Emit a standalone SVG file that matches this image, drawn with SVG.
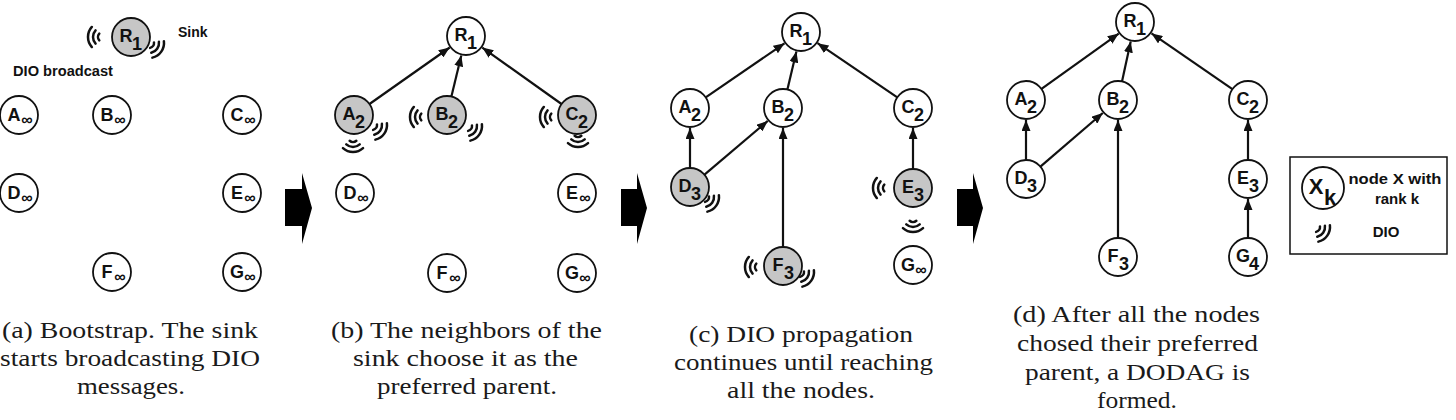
<svg xmlns="http://www.w3.org/2000/svg" xmlns:xlink="http://www.w3.org/1999/xlink" width="1456" height="420" viewBox="0 0 1456 420">
<style>
.nd{fill:#fff;stroke:#111;stroke-width:1.8}
.act{fill:#c6c6c6}
.lb{font-family:"Liberation Sans",Arial,sans-serif;font-weight:bold;font-size:18px;fill:#111;text-anchor:middle}
.inf{font-family:"Liberation Sans",Arial,sans-serif;font-weight:bold;font-size:16px;fill:#111;text-anchor:middle}
.tx{font-family:"Liberation Sans",Arial,sans-serif;font-weight:bold;font-size:14px;fill:#111}
.cap{font-family:"Liberation Serif","Times New Roman",serif;font-size:24px;fill:#1a1a1a}
.ed{stroke:#111;stroke-width:2.2;fill:none;marker-end:url(#ah)}
.wv{fill:none;stroke:#111;stroke-width:2.5;stroke-linecap:round}
.blk{fill:#000}
</style>
<defs>
<marker id="ah" markerUnits="userSpaceOnUse" markerWidth="12" markerHeight="9" refX="11" refY="4.5" orient="auto">
<path d="M0,0 L11,4.5 L0,9 z" fill="#111"/>
</marker>
<path id="wave" class="wv" d="M3.72,-3.35 A5,5 0 0 1 3.72,3.35 M7.43,-6.69 A10,10 0 0 1 7.43,6.69 M11.15,-10.04 A15,15 0 0 1 11.15,10.04"/>
</defs>
<rect width="1456" height="420" fill="#fff"/>

<!-- Panel (a) -->
<g id="a-R1"><circle class="nd act" cx="131" cy="37" r="19"/><text class="lb" x="126" y="42">R</text><text class="lb" x="137" y="50">1</text></g>
<g id="a-A"><circle class="nd" cx="19" cy="115" r="19"/><text class="lb" x="14" y="121">A</text><text class="inf" x="27" y="125">∞</text></g>
<g id="a-B"><circle class="nd" cx="112" cy="115" r="19"/><text class="lb" x="107" y="121">B</text><text class="inf" x="120" y="125">∞</text></g>
<g id="a-C"><circle class="nd" cx="242" cy="115" r="19"/><text class="lb" x="237" y="121">C</text><text class="inf" x="250" y="125">∞</text></g>
<g id="a-D"><circle class="nd" cx="19" cy="193" r="19"/><text class="lb" x="14" y="199">D</text><text class="inf" x="27" y="203">∞</text></g>
<g id="a-E"><circle class="nd" cx="242" cy="193" r="19"/><text class="lb" x="237" y="199">E</text><text class="inf" x="250" y="203">∞</text></g>
<g id="a-F"><circle class="nd" cx="112" cy="272" r="19"/><text class="lb" x="107" y="278">F</text><text class="inf" x="120" y="282">∞</text></g>
<g id="a-G"><circle class="nd" cx="242" cy="272" r="19"/><text class="lb" x="237" y="278">G</text><text class="inf" x="250" y="282">∞</text></g>
<text class="tx" x="178" y="37">Sink</text>
<text class="tx" x="13" y="76" textLength="100" lengthAdjust="spacingAndGlyphs">DIO broadcast</text>

<!-- Panel (b) -->
<g id="b-R1"><circle class="nd" cx="466" cy="36" r="19"/><text class="lb" x="461" y="41">R</text><text class="lb" x="472" y="49">1</text></g>
<g id="b-A2"><circle class="nd act" cx="354" cy="115" r="19"/><text class="lb" x="349" y="120">A</text><text class="lb" x="360" y="128">2</text></g>
<g id="b-B2"><circle class="nd act" cx="447" cy="115" r="19"/><text class="lb" x="442" y="120">B</text><text class="lb" x="453" y="128">2</text></g>
<g id="b-C2"><circle class="nd act" cx="577" cy="115" r="19"/><text class="lb" x="572" y="120">C</text><text class="lb" x="583" y="128">2</text></g>
<g id="b-D"><circle class="nd" cx="355" cy="193" r="19"/><text class="lb" x="350" y="199">D</text><text class="inf" x="363" y="203">∞</text></g>
<g id="b-E"><circle class="nd" cx="577" cy="193" r="19"/><text class="lb" x="572" y="199">E</text><text class="inf" x="585" y="203">∞</text></g>
<g id="b-F"><circle class="nd" cx="447" cy="273" r="19"/><text class="lb" x="442" y="279">F</text><text class="inf" x="455" y="283">∞</text></g>
<g id="b-G"><circle class="nd" cx="577" cy="273" r="19"/><text class="lb" x="572" y="279">G</text><text class="inf" x="585" y="283">∞</text></g>

<!-- Panel (c) -->
<g id="c-R1"><circle class="nd" cx="801" cy="32" r="19"/><text class="lb" x="796" y="37">R</text><text class="lb" x="807" y="45">1</text></g>
<g id="c-A2"><circle class="nd" cx="690" cy="108" r="19"/><text class="lb" x="685" y="113">A</text><text class="lb" x="696" y="121">2</text></g>
<g id="c-B2"><circle class="nd" cx="783" cy="108" r="19"/><text class="lb" x="778" y="113">B</text><text class="lb" x="789" y="121">2</text></g>
<g id="c-C2"><circle class="nd" cx="913" cy="108" r="19"/><text class="lb" x="908" y="113">C</text><text class="lb" x="919" y="121">2</text></g>
<g id="c-D3"><circle class="nd act" cx="690" cy="187" r="19"/><text class="lb" x="685" y="192">D</text><text class="lb" x="696" y="200">3</text></g>
<g id="c-E3"><circle class="nd act" cx="913" cy="188" r="19"/><text class="lb" x="908" y="193">E</text><text class="lb" x="919" y="201">3</text></g>
<g id="c-F3"><circle class="nd act" cx="783" cy="266" r="19"/><text class="lb" x="778" y="271">F</text><text class="lb" x="789" y="279">3</text></g>
<g id="c-G"><circle class="nd" cx="913" cy="265" r="19"/><text class="lb" x="908" y="271">G</text><text class="inf" x="921" y="275">∞</text></g>

<!-- Panel (d) -->
<g id="d-R1"><circle class="nd" cx="1135" cy="22" r="19"/><text class="lb" x="1130" y="27">R</text><text class="lb" x="1141" y="35">1</text></g>
<g id="d-A2"><circle class="nd" cx="1026" cy="100" r="19"/><text class="lb" x="1021" y="105">A</text><text class="lb" x="1032" y="113">2</text></g>
<g id="d-B2"><circle class="nd" cx="1118" cy="100" r="19"/><text class="lb" x="1113" y="105">B</text><text class="lb" x="1124" y="113">2</text></g>
<g id="d-C2"><circle class="nd" cx="1248" cy="100" r="19"/><text class="lb" x="1243" y="105">C</text><text class="lb" x="1254" y="113">2</text></g>
<g id="d-D3"><circle class="nd" cx="1026" cy="179" r="19"/><text class="lb" x="1021" y="184">D</text><text class="lb" x="1032" y="192">3</text></g>
<g id="d-E3"><circle class="nd" cx="1248" cy="179" r="19"/><text class="lb" x="1243" y="184">E</text><text class="lb" x="1254" y="192">3</text></g>
<g id="d-F3"><circle class="nd" cx="1118" cy="257" r="19"/><text class="lb" x="1113" y="262">F</text><text class="lb" x="1124" y="270">3</text></g>
<g id="d-G4"><circle class="nd" cx="1248" cy="257" r="19"/><text class="lb" x="1243" y="262">G</text><text class="lb" x="1254" y="270">4</text></g>

<!-- Connectors -->
<g id="connectors">
<line class="ed" x1="369.5" y1="104" x2="449.7" y2="47.5"/>
<line class="ed" x1="451.4" y1="96.5" x2="461.3" y2="55.4"/>
<line class="ed" x1="561.5" y1="104" x2="482.3" y2="47.6"/>

<line class="ed" x1="705.7" y1="97.3" x2="784.5" y2="43.3"/>
<line class="ed" x1="787.4" y1="89.5" x2="796.4" y2="51.5"/>
<line class="ed" x1="897.3" y1="97.3" x2="817.5" y2="43.2"/>
<line class="ed" x1="690" y1="168" x2="690" y2="128"/>
<line class="ed" x1="704.5" y1="174.7" x2="767.8" y2="120.9"/>
<line class="ed" x1="783" y1="247" x2="783" y2="128"/>
<line class="ed" x1="913" y1="169" x2="913" y2="128"/>

<line class="ed" x1="1041.5" y1="88.9" x2="1118.7" y2="33.6"/>
<line class="ed" x1="1122" y1="81.4" x2="1130.7" y2="41.5"/>
<line class="ed" x1="1232.4" y1="89.2" x2="1151.5" y2="33.4"/>
<line class="ed" x1="1026" y1="160" x2="1026" y2="120"/>
<line class="ed" x1="1040.4" y1="166.6" x2="1102.8" y2="113"/>
<line class="ed" x1="1118" y1="238" x2="1118" y2="120"/>
<line class="ed" x1="1248" y1="160" x2="1248" y2="120"/>
<line class="ed" x1="1248" y1="238" x2="1248" y2="199"/>
</g>

<!-- DIO waves -->
<g id="waves">
<use xlink:href="#wave" href="#wave" transform="translate(103,37) rotate(180)"/>
<use xlink:href="#wave" href="#wave" transform="translate(149,43) rotate(35)"/>
<use xlink:href="#wave" href="#wave" transform="translate(372,125) rotate(35)"/>
<use xlink:href="#wave" href="#wave" transform="translate(353,137) rotate(90)"/>
<use xlink:href="#wave" href="#wave" transform="translate(425,117) rotate(180)"/>
<use xlink:href="#wave" href="#wave" transform="translate(467,126) rotate(35)"/>
<use xlink:href="#wave" href="#wave" transform="translate(555,117) rotate(180)"/>
<use xlink:href="#wave" href="#wave" transform="translate(578,132) rotate(90)"/>
<use xlink:href="#wave" href="#wave" transform="translate(704,197) rotate(35)"/>
<use xlink:href="#wave" href="#wave" transform="translate(888,188) rotate(180)"/>
<use xlink:href="#wave" href="#wave" transform="translate(913,217) rotate(90)"/>
<use xlink:href="#wave" href="#wave" transform="translate(760,267) rotate(180)"/>
<use xlink:href="#wave" href="#wave" transform="translate(799,272) rotate(35)"/>
</g>

<!-- Block arrows -->
<g id="steps">
<path class="blk" d="M285,189 H302 V173 L312,208 L302,244 V226 H285 Z"/>
<path class="blk" d="M621,189 H637 V173 L647,208 L637,244 V226 H621 Z"/>
<path class="blk" d="M957,189 H973 V173 L983,208 L973,244 V226 H957 Z"/>
</g>

<!-- Legend -->
<g id="legend">
<rect x="1290" y="157" width="157" height="97" fill="#fff" stroke="#111" stroke-width="1.5"/>
<circle class="nd" cx="1323" cy="188" r="21"/>
<text class="lb" style="font-size:22px" x="1316" y="194">X</text>
<text class="lb" style="font-size:22px" x="1330" y="205">k</text>
<text class="tx" style="font-size:15px;text-anchor:middle" x="1395" y="184" textLength="93" lengthAdjust="spacingAndGlyphs">node X with</text>
<text class="tx" style="font-size:15px;text-anchor:middle" x="1397" y="204">rank k</text>
<use xlink:href="#wave" href="#wave" transform="translate(1315,227) rotate(35)"/>
<text class="tx" style="font-size:15px;text-anchor:middle" x="1386" y="237">DIO</text>
</g>

<!-- Captions -->
<g id="captions">
<text class="cap" x="2" y="338" textLength="256" lengthAdjust="spacingAndGlyphs">(a) Bootstrap. The sink</text>
<text class="cap" x="0" y="366" textLength="260" lengthAdjust="spacingAndGlyphs">starts broadcasting DIO</text>
<text class="cap" x="77" y="394" textLength="108" lengthAdjust="spacingAndGlyphs">messages.</text>

<text class="cap" x="331" y="338" textLength="271" lengthAdjust="spacingAndGlyphs">(b) The neighbors of the</text>
<text class="cap" x="353" y="366" textLength="225" lengthAdjust="spacingAndGlyphs">sink choose it as the</text>
<text class="cap" x="377" y="394" textLength="180" lengthAdjust="spacingAndGlyphs">preferred parent.</text>

<text class="cap" x="689" y="342" textLength="224" lengthAdjust="spacingAndGlyphs">(c) DIO propagation</text>
<text class="cap" x="674" y="370" textLength="259" lengthAdjust="spacingAndGlyphs">continues until reaching</text>
<text class="cap" x="727" y="398" textLength="148" lengthAdjust="spacingAndGlyphs">all the nodes.</text>

<text class="cap" x="1013" y="322" textLength="247" lengthAdjust="spacingAndGlyphs">(d) After all the nodes</text>
<text class="cap" x="1017" y="351" textLength="241" lengthAdjust="spacingAndGlyphs">chosed their preferred</text>
<text class="cap" x="1025" y="380" textLength="225" lengthAdjust="spacingAndGlyphs">parent, a DODAG is</text>
<text class="cap" x="1097" y="408" textLength="80" lengthAdjust="spacingAndGlyphs">formed.</text>
</g>
</svg>
